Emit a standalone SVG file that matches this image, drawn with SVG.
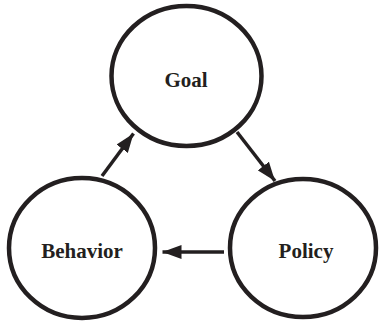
<svg xmlns="http://www.w3.org/2000/svg" width="379" height="323" viewBox="0 0 379 323">
  <style>
    .node ellipse { fill: #ffffff; stroke: #231f20; stroke-width: 4.5; }
    .node text { font-family: "Liberation Serif", "Times New Roman", serif; font-weight: bold; font-size: 21px; fill: #231f20; text-anchor: middle; }
    .edge { stroke: #231f20; stroke-width: 3.5; fill: none; marker-end: url(#head); }
  </style>
  <defs>
    <marker id="head" viewBox="0 0 19 14" refX="19" refY="7" markerWidth="19" markerHeight="14" markerUnits="userSpaceOnUse" orient="auto">
      <path d="M0,0 L19,7 L0,14 Z" fill="#231f20"/>
    </marker>
  </defs>
  <rect width="379" height="323" fill="#ffffff"/>

  <g id="connectors">
    <line class="edge" x1="102" y1="176" x2="133.5" y2="133.5"/>
    <line class="edge" x1="237" y1="132" x2="275" y2="181"/>
    <line class="edge" x1="224" y1="252" x2="162.5" y2="252"/>
  </g>

  <g id="goal" class="node">
    <ellipse cx="186.5" cy="76" rx="75" ry="70"/>
    <text x="186" y="87">Goal</text>
  </g>

  <g id="behavior" class="node">
    <ellipse cx="82" cy="248" rx="73" ry="70"/>
    <text x="82" y="258">Behavior</text>
  </g>

  <g id="policy" class="node">
    <ellipse cx="303" cy="248" rx="73" ry="69"/>
    <text x="306" y="258">Policy</text>
  </g>
</svg>
